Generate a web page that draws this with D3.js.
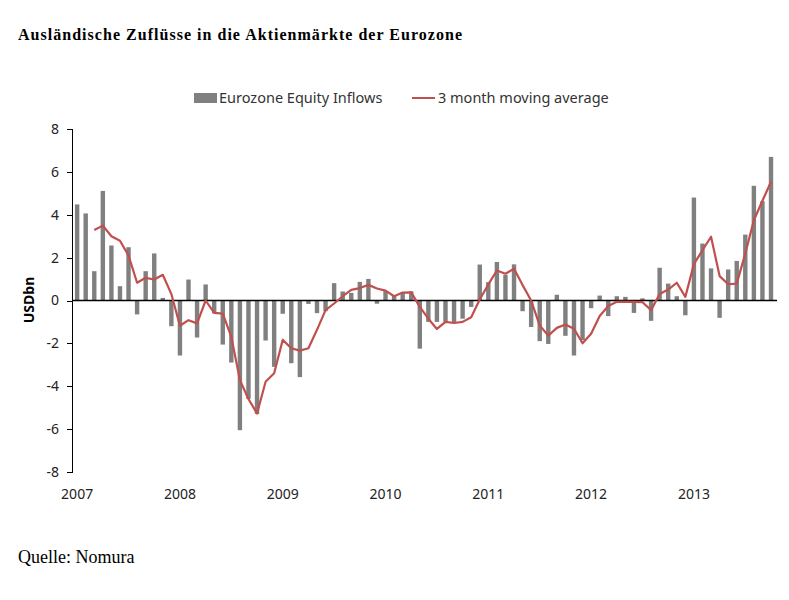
<!DOCTYPE html>
<html>
	<head>
		<meta charset="utf-8">
		<style>
			body {
			  margin: 0;
			  background: #fff;
			}
			.axis text {
			  font: 14px "Noto Sans", sans-serif;
			  fill: #222;
			}
			.axis path,
			.axis line {
			  fill: none;
			  stroke: #000;
			  shape-rendering: crispEdges;
			}
			.legend text {
			  font: 14.5px "Noto Sans", sans-serif;
			  fill: #333;
			}
		</style>
		<script src="https://cdn.jsdelivr.net/npm/d3@7"></script>
	</head>
	<body>
		<div id="chart"></div>
		<script type="text/javascript">
			// monthly data, Jan 2007 .. Oct 2013
			var years = ["2007", "2008", "2009", "2010", "2011", "2012", "2013"];

			var inflows = [
				4.49, 4.07, 1.37, 5.12, 2.57, 0.67, 2.49, -0.65, 1.37, 2.2, 0.12, -1.2,
				-2.57, 0.98, -1.73, 0.75, -0.6, -2.06, -2.9, -6.06, -4.6, -5.3, -1.87, -3.1,
				-0.62, -2.93, -3.58, -0.16, -0.59, -0.5, 0.81, 0.42, 0.36, 0.87, 1.01, -0.15,
				0.45, 0.25, 0.38, 0.43, -2.25, -1.0, -1.0, -1.0, -1.05, -0.85, -0.3, 1.68,
				0.86, 1.8, 1.2, 1.69, -0.5, -1.24, -1.9, -2.03, 0.27, -1.65, -2.57, -1.85,
				-0.36, 0.23, -0.73, 0.2, 0.17, -0.58, 0.1, -0.95, 1.53, 0.79, 0.2, -0.69,
				4.81, 2.66, 1.5, -0.81, 1.45, 1.85, 3.08, 5.36, 4.64, 6.71
			];

			var movingAvg = [
				null, null, 3.29, 3.5, 3.0, 2.79, 2.1, 0.83, 1.06, 0.98, 1.2, 0.3,
				-1.18, -0.92, -1.07, 0.0, -0.58, -0.61, -1.7, -3.72, -4.6, -5.28, -3.8, -3.4,
				-1.84, -2.23, -2.34, -2.23, -1.37, -0.45, -0.14, 0.2, 0.5, 0.58, 0.73, 0.56,
				0.46, 0.2, 0.37, 0.38, -0.3, -0.85, -1.33, -1.0, -1.05, -1.0, -0.78, 0.05,
				0.75, 1.4, 1.25, 1.48, 0.72, 0.0, -1.17, -1.64, -1.28, -1.12, -1.32, -2.0,
				-1.55, -0.72, -0.26, -0.06, -0.06, -0.06, -0.08, -0.45, 0.3, 0.51, 0.83, 0.17,
				1.7, 2.35, 2.98, 1.14, 0.76, 0.79, 2.2, 3.75, 4.66, 5.55
			];

			var yTicks = [-8, -6, -4, -2, 0, 2, 4, 6, 8];

			var svg = d3.select("#chart").append("svg")
				.attr("width", 789)
				.attr("height", 600);

			var x = d3.scaleLinear().domain([-0.6, 81.7]).range([72, 777]);
			var y = d3.scaleLinear().domain([-8, 8]).range([471.7, 129.3]);

			// title
			svg.append("text")
				.attr("x", 18)
				.attr("y", 40)
				.attr("textLength", 444)
				.attr("lengthAdjust", "spacing")
				.style("font", "bold 16px 'Liberation Serif', serif")
				.text("Ausländische Zuflüsse in die Aktienmärkte der Eurozone");

			// legend
			var legend = svg.append("g").attr("class", "legend");
			legend.append("rect")
				.attr("x", 194).attr("y", 93)
				.attr("width", 23).attr("height", 10)
				.attr("fill", "#808080");
			legend.append("text")
				.attr("x", 219).attr("y", 103)
				.text("Eurozone Equity Inflows");
			legend.append("line")
				.attr("x1", 412).attr("x2", 435)
				.attr("y1", 98).attr("y2", 98)
				.attr("stroke", "#c0504d")
				.attr("stroke-width", 2);
			legend.append("text")
				.attr("x", 438).attr("y", 103)
				.text("3 month moving average");

			// bars
			svg.append("g").selectAll("rect")
				.data(inflows)
				.enter().append("rect")
				.attr("x", function(d, i) { return x(i) - 2.2 })
				.attr("width", 4.4)
				.attr("y", function(d) { return y(Math.max(0, d)) })
				.attr("height", function(d) { return Math.abs(y(d) - y(0)) })
				.attr("fill", "#808080");

			// zero line
			svg.append("line")
				.attr("x1", x(-0.6)).attr("x2", x(81.7))
				.attr("y1", y(0)).attr("y2", y(0))
				.attr("stroke", "#000")
				.attr("stroke-width", 1.3);

			// moving average
			var line = d3.line()
				.defined(function(d) { return d !== null })
				.x(function(d, i) { return x(i) })
				.y(function(d) { return y(d) });

			svg.append("path")
				.datum(movingAvg)
				.attr("d", line)
				.attr("fill", "none")
				.attr("stroke", "#c0504d")
				.attr("stroke-width", 2.2)
				.attr("stroke-linejoin", "round");

			// y axis
			svg.append("g")
				.attr("class", "axis")
				.attr("transform", "translate(72,0)")
				.call(d3.axisLeft(y)
					.tickValues(yTicks)
					.tickFormat(function(d) { return String(d) })
					.tickSize(5).tickSizeOuter(5).tickPadding(8));

			// year labels under january bars
			var xAxis = svg.append("g").attr("class", "axis");
			xAxis.selectAll("text")
				.data(years)
				.enter().append("text")
				.attr("x", function(d, i) { return x(i * 12) })
				.attr("y", 499)
				.attr("text-anchor", "middle")
				.text(function(d) { return d });

			svg.append("text")
				.attr("transform", "translate(34,300) rotate(-90)")
				.attr("text-anchor", "middle")
				.style("font", "bold 14px 'Noto Sans', sans-serif")
				.text("USDbn");

			svg.append("text")
				.attr("x", 18)
				.attr("y", 563)
				.style("font", "18px 'Liberation Serif', serif")
				.text("Quelle: Nomura");
		</script>
	</body>
</html>
